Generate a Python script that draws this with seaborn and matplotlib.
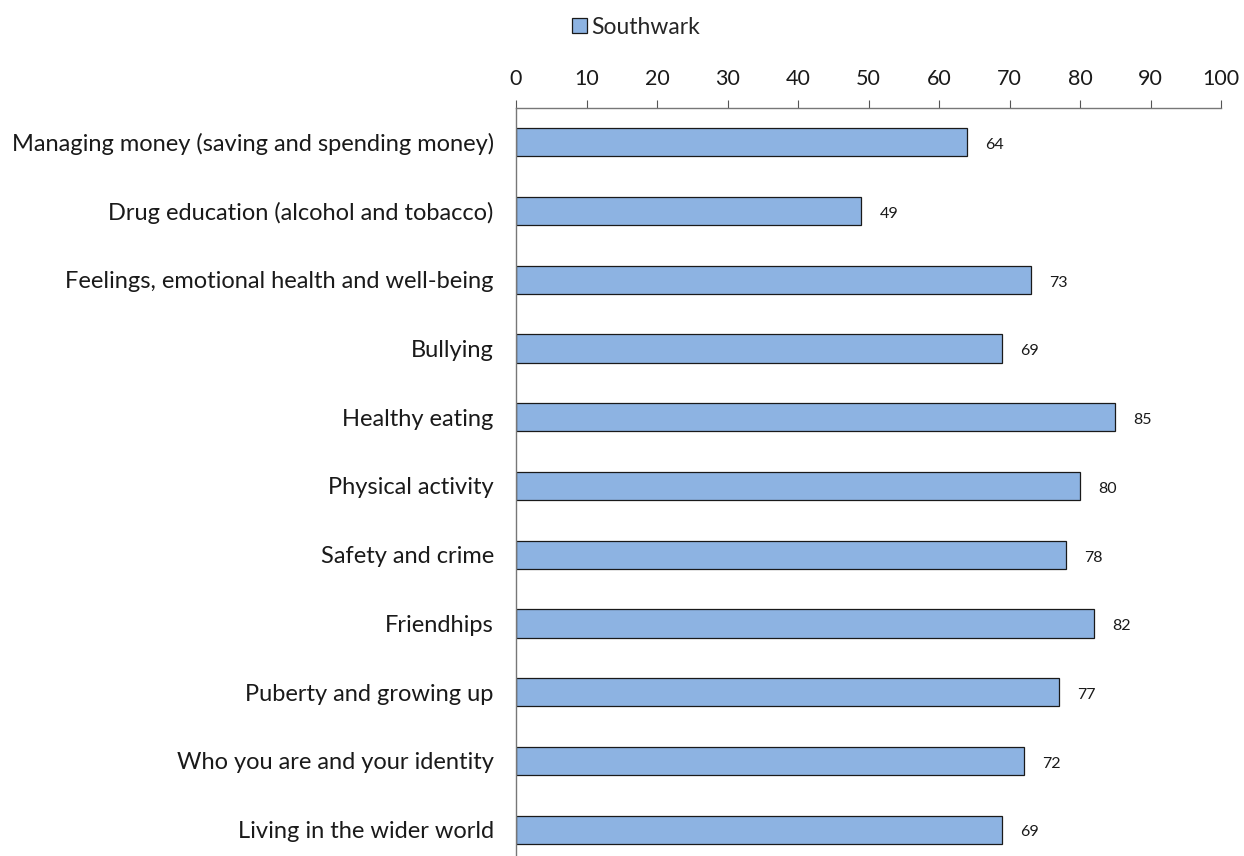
import matplotlib
matplotlib.use("Agg")
import matplotlib.pyplot as plt
from matplotlib.patches import Patch
import seaborn as sns
import pandas as pd

topics = [
    "Managing money (saving and spending money)",
    "Drug education (alcohol and tobacco)",
    "Feelings, emotional health and well-being",
    "Bullying",
    "Healthy eating",
    "Physical activity",
    "Safety and crime",
    "Friendhips",
    "Puberty and growing up",
    "Who you are and your identity",
    "Living in the wider world",
]
southwark = [64, 49, 73, 69, 85, 80, 78, 82, 77, 72, 69]
x_ticks = [0, 10, 20, 30, 40, 50, 60, 70, 80, 90, 100]
series_name = "Southwark"

bar_color = "#8DB3E2"
edge_color = "#1a1a1a"
text_color = "#1a1a1a"

sns.set_theme(style="white")
plt.rcParams["font.family"] = ["Lato", "DejaVu Sans"]

df = pd.DataFrame({"topic": topics, "value": southwark})

fig = plt.figure(figsize=(12.44, 8.56), dpi=100)
ax = fig.add_axes([516 / 1244, 1 - 864 / 856, (1221 - 516) / 1244, (864 - 108) / 856])

sns.barplot(data=df, x="value", y="topic", orient="h", color=bar_color,
            edgecolor=edge_color, linewidth=0.9, width=0.41, saturation=1,
            ax=ax)

ax.set_xlim(0, 100)
ax.set_ylim(len(topics) - 0.5, -0.5)
ax.set_xticks(x_ticks)
ax.xaxis.tick_top()
ax.tick_params(axis="x", which="both", direction="out", length=6, width=0.8,
               color="#555555", labelsize=15.5, pad=8, labelcolor=text_color,
               top=True, bottom=False)
ax.tick_params(axis="y", length=0, labelsize=17, pad=16, labelcolor=text_color)
ax.set_xlabel("")
ax.set_ylabel("")

for side in ["right", "bottom"]:
    ax.spines[side].set_visible(False)
for side in ["top", "left"]:
    ax.spines[side].set_color("#777777")
    ax.spines[side].set_linewidth(1.0)

for i, v in enumerate(southwark):
    ax.annotate(str(v), xy=(v, i), xytext=(13, -2), textcoords="offset points",
                va="center", ha="left", fontsize=11.5, color=text_color)

handle = Patch(facecolor=bar_color, edgecolor=edge_color, linewidth=0.9)
fig.legend([handle], [series_name], loc="center", bbox_to_anchor=(636 / 1244, 1 - 27 / 856),
           frameon=False, fontsize=16.5, handlelength=0.65, handleheight=0.65,
           handletextpad=0.2, borderaxespad=0)

fig.savefig("out.png", dpi=100)
